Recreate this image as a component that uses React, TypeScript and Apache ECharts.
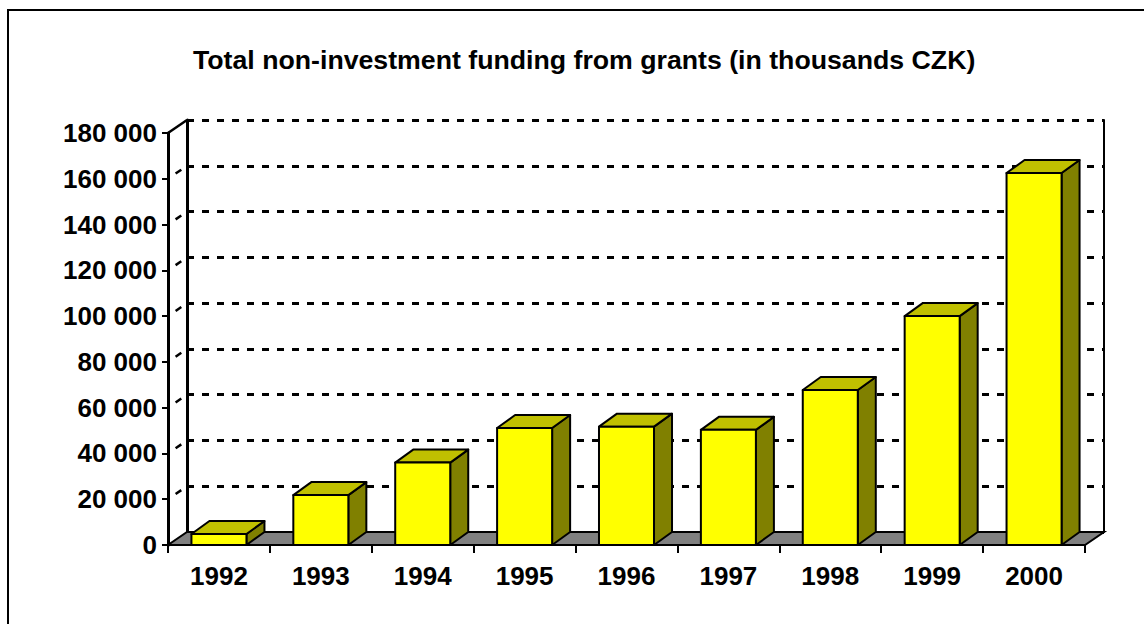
import { useEffect, useRef } from "react";
import * as echarts from "echarts";

const categories = ["1992", "1993", "1994", "1995", "1996", "1997", "1998", "1999", "2000"];
const values = [4800, 21800, 36000, 51100, 51700, 50300, 67700, 100000, 162500];
const yTicks = [0, 20000, 40000, 60000, 80000, 100000, 120000, 140000, 160000, 180000];
const titleText = "Total non-investment funding from grants (in thousands CZK)";

const DX = 19;
const DY = -13;
const BDX = 18;
const BDY = -13;
const FONT = "Arial, 'Liberation Sans', sans-serif";

const fmt = (v: number) => String(v).replace(/\B(?=(\d{3})+(?!\d))/g, " ");

export default function App() {
  const ref = useRef<HTMLDivElement>(null);
  useEffect(() => {
    const chart = echarts.init(ref.current!, null, { renderer: "svg" });
    const yMin = yTicks[0];
    const yMax = yTicks[yTicks.length - 1];
    const yInt = yTicks[1] - yTicks[0];
    chart.setOption({
      animation: false,
      backgroundColor: "#ffffff",
      title: {
        text: titleText,
        left: 188,
        top: 41,
        textStyle: { fontFamily: FONT, fontWeight: "bold", fontSize: 26.7, color: "#000" },
      },
      graphic: [
        {
          type: "rect",
          shape: { x: 8, y: 10, width: 1300, height: 800 },
          style: { fill: "none", stroke: "#000", lineWidth: 2 },
          silent: true,
        },
      ],
      grid: [
        { left: 168, right: 59, top: 133, bottom: 79 },
        { left: 187, right: 40, top: 120, bottom: 92 },
      ],
      xAxis: [
        {
          type: "category",
          gridIndex: 0,
          data: categories,
          axisLine: { show: true, lineStyle: { color: "#000", width: 2 } },
          axisTick: { show: true, interval: 0, length: 8, lineStyle: { color: "#000", width: 2 } },
          axisLabel: {
            interval: 0,
            margin: 18,
            fontFamily: FONT,
            fontWeight: "bold",
            fontSize: 26,
            color: "#000",
          },
          splitLine: { show: false },
        },
        { type: "category", gridIndex: 1, data: categories, show: false },
      ],
      yAxis: [
        {
          type: "value",
          gridIndex: 0,
          min: yMin,
          max: yMax,
          interval: yInt,
          axisLine: { show: true, lineStyle: { color: "#000", width: 3 } },
          axisTick: { show: true, length: 6, lineStyle: { color: "#000", width: 2 } },
          axisLabel: {
            formatter: fmt,
            margin: 11,
            fontFamily: FONT,
            fontWeight: "bold",
            fontSize: 26,
            color: "#000",
          },
          splitLine: { show: false },
        },
        {
          type: "value",
          gridIndex: 1,
          min: yMin,
          max: yMax,
          interval: yInt,
          axisLine: { show: true, lineStyle: { color: "#000", width: 3 } },
          axisTick: { show: false },
          axisLabel: { show: false },
          splitLine: { show: true, lineStyle: { color: "#000", width: 3, type: [7, 8] } },
        },
        {
          type: "value",
          gridIndex: 1,
          position: "right",
          min: yMin,
          max: yMax,
          interval: yInt,
          axisLine: { show: true, lineStyle: { color: "#000", width: 2 } },
          axisTick: { show: false },
          axisLabel: { show: false },
          splitLine: { show: false },
        },
      ],
      series: [
        {
          type: "custom",
          name: "walls",
          xAxisIndex: 0,
          yAxisIndex: 0,
          z: 3,
          silent: true,
          data: yTicks.map((t) => [0, t]),
          renderItem: (params: any, api: any) => {
            const t = api.value(1);
            const p = api.coord([0, t]);
            const cs = params.coordSys;
            const x0 = cs.x;
            const y = p[1];
            if (t === yMin) {
              return {
                type: "polygon",
                shape: {
                  points: [
                    [x0, y],
                    [x0 + cs.width, y],
                    [x0 + cs.width + DX, y + DY],
                    [x0 + DX, y + DY],
                  ],
                },
                style: { fill: "#808080", stroke: "#000", lineWidth: 2 },
              };
            }
            if (t === yMax) {
              return {
                type: "line",
                shape: { x1: x0, y1: y, x2: x0 + DX, y2: y + DY },
                style: { stroke: "#000", lineWidth: 2.5 },
              };
            }
            return {
              type: "line",
              shape: { x1: x0 + DX * 0.4, y1: y + DY * 0.4, x2: x0 + DX * 0.7, y2: y + DY * 0.7 },
              style: { stroke: "#000", lineWidth: 2.5 },
            };
          },
        },
        {
          type: "custom",
          name: "funding",
          xAxisIndex: 0,
          yAxisIndex: 0,
          z: 5,
          data: values.map((v, i) => [i, v]),
          renderItem: (params: any, api: any) => {
            const i = api.value(0);
            const v = api.value(1);
            const base = api.coord([i, 0]);
            const top = api.coord([i, v]);
            const w = api.size([1, 0])[0] * 0.54;
            const x1 = base[0] - w / 2;
            const x2 = base[0] + w / 2;
            const yb = base[1];
            const yt = top[1];
            const st = { stroke: "#000", lineWidth: 2, lineJoin: "round" };
            return {
              type: "group",
              children: [
                {
                  type: "polygon",
                  shape: { points: [[x2, yb], [x2 + BDX, yb + BDY], [x2 + BDX, yt + BDY], [x2, yt]] },
                  style: { fill: "#808000", ...st },
                },
                {
                  type: "polygon",
                  shape: { points: [[x1, yt], [x2, yt], [x2 + BDX, yt + BDY], [x1 + BDX, yt + BDY]] },
                  style: { fill: "#C0C000", ...st },
                },
                {
                  type: "rect",
                  shape: { x: x1, y: yt, width: w, height: yb - yt },
                  style: { fill: "#FFFF00", ...st },
                },
              ],
            };
          },
        },
      ],
    });
    return () => chart.dispose();
  }, []);
  return (
    <div
      ref={ref}
      style={{ position: "absolute", left: 0, top: 0, width: 1144, height: 624 }}
    />
  );
}
